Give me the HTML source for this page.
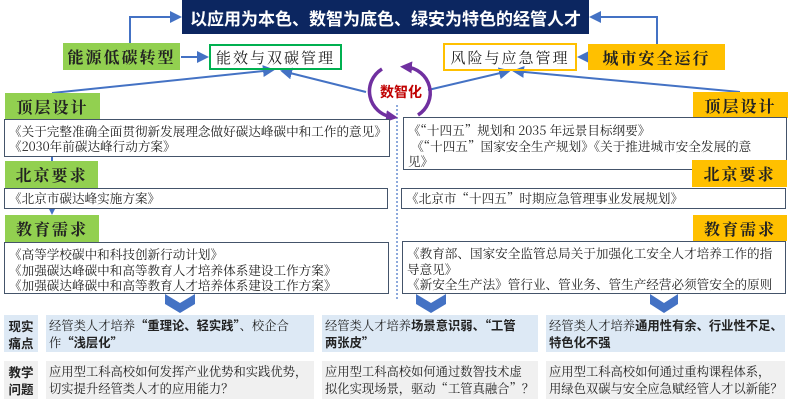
<!DOCTYPE html>
<html><head><meta charset="utf-8"><style>
*{margin:0;padding:0;box-sizing:border-box}
body{width:800px;height:403px;background:#fff;position:relative;overflow:hidden;font-family:"Noto Serif CJK SC","Liberation Serif",serif;color:#222}
.a{position:absolute}
.g{background:#92d050;font-size:16px;font-weight:bold;display:flex;align-items:center;justify-content:center;letter-spacing:2px}
.o{background:#ffc000;font-size:16px;font-weight:bold;display:flex;align-items:center;justify-content:center;letter-spacing:2px}
.doc{border:1.5px solid #44546a;background:#fff;font-size:12.6px;line-height:14px;padding:2px 4px;white-space:nowrap;overflow:hidden}
.c1{background:#dde9f5;font-size:12.3px;line-height:17px;padding:2px 3px;white-space:nowrap}
.c2{background:#f0f0f0;font-size:12.3px;line-height:17px;padding:2px 3px;white-space:nowrap}
.lab{font-family:"Noto Sans CJK SC","Liberation Sans",sans-serif;font-weight:bold;font-size:12.5px;line-height:17px;display:flex;align-items:center;justify-content:center;text-align:center}
b{font-family:"Noto Sans CJK SC","Liberation Sans",sans-serif}
</style></head><body>
<div class="a" style="left:182px;top:0;width:407px;height:34px;background:#0c2660;color:#fff;font-family:'Noto Sans CJK SC','Liberation Sans',sans-serif;font-weight:bold;font-size:17px;display:flex;align-items:center;justify-content:center">以应用为本色、数智为底色、绿安为特色的经管人才</div>
<svg class="a" style="left:0;top:0" width="800" height="403">
<defs><marker id="m" markerWidth="6" markerHeight="6" refX="5" refY="3" orient="auto"><path d="M0,0L6,3L0,6z" fill="#4472c4"/></marker>
<marker id="p" markerUnits="userSpaceOnUse" markerWidth="12" markerHeight="12" refX="6" refY="6" orient="auto"><path d="M0,0L12,6L0,12z" fill="#7030a0"/></marker></defs>
<g stroke="#4472c4" stroke-width="2" fill="none">
<path d="M130,43V17H180" marker-end="url(#m)"/>
<path d="M657,44V17H591" marker-end="url(#m)"/>
<path d="M181,57H207" marker-end="url(#m)"/>
<path d="M588,57H579" marker-end="url(#m)"/>
<path d="M52,93L273,70" marker-end="url(#m)"/>
<path d="M366,92L282,71" marker-end="url(#m)"/>
<path d="M428,90L509,71" marker-end="url(#m)"/>
<path d="M740,92L514,71" marker-end="url(#m)"/>
<path d="M52,157V213" marker-end="url(#m)"/>
<path d="M397,105V300" stroke-dasharray="2,2" stroke-width="1.2"/>
</g>
<g stroke="#7030a0" stroke-width="3.5" fill="none">
<path d="M382,69 A26,26 0 0 0 392,117" marker-end="url(#p)"/>
<path d="M418,115 A26,26 0 0 0 406,67" marker-end="url(#p)"/>
</g>
<g fill="#4472c4">
<path d="M165,294L180,303L195,294V304L180,313L165,304z"/>
<path d="M416,294L431,303L446,294V304L431,313L416,304z"/>
<path d="M650,294L664,303L678,294V304L664,313L650,304z"/>
</g>
</svg>
<div class="a" style="left:372px;top:82px;width:58px;text-align:center;color:#c00000;font-weight:bold;font-size:14px;font-family:'Noto Sans CJK SC','Liberation Sans',sans-serif">数智化</div>
<div class="a g" style="left:63px;top:43px;width:117px;height:27px">能源低碳转型</div>
<div class="a" style="left:209px;top:44px;width:133px;height:26px;border:2px solid #00b050;font-size:15px;display:flex;align-items:center;justify-content:center;letter-spacing:2px">能效与双碳管理</div>
<div class="a" style="left:443px;top:43px;width:134px;height:28px;border:2px solid #ffc000;font-size:15px;display:flex;align-items:center;justify-content:center;letter-spacing:2px">风险与应急管理</div>
<div class="a o" style="left:588px;top:44px;width:137px;height:26px">城市安全运行</div>

<div class="a g" style="left:5px;top:93px;width:95px;height:26px">顶层设计</div>
<div class="a doc" style="left:4px;top:119px;width:386px;height:38px;padding-top:3px;line-height:15px">《关于完整准确全面贯彻新发展理念做好碳达峰碳中和工作的意见》<br>《2030年前碳达峰行动方案》</div>
<div class="a g" style="left:5px;top:161px;width:93px;height:27px">北京要求</div>
<div class="a doc" style="left:4px;top:188px;width:384px;height:21px;padding-top:2px">《北京市碳达峰实施方案》</div>
<div class="a g" style="left:5px;top:215px;width:94px;height:27px">教育需求</div>
<div class="a doc" style="left:4px;top:242px;width:385px;height:52px;line-height:15.5px;padding-top:3px">《高等学校碳中和科技创新行动计划》<br>《加强碳达峰碳中和高等教育人才培养体系建设工作方案》<br>《加强碳达峰碳中和高等教育人才培养体系建设工作方案》</div>

<div class="a o" style="left:693px;top:92px;width:95px;height:26px">顶层设计</div>
<div class="a doc" style="left:403px;top:117px;width:384px;height:53px;line-height:15.5px;padding-top:4px">《“十四五”规划和 2035 年远景目标纲要》<br>&nbsp;《“十四五”国家安全生产规划》《关于推进城市安全发展的意<br>见》</div>
<div class="a o" style="left:692px;top:160px;width:95px;height:27px">北京要求</div>
<div class="a doc" style="left:401px;top:188px;width:385px;height:21px;padding-top:2px">《北京市“十四五”时期应急管理事业发展规划》</div>
<div class="a o" style="left:693px;top:215px;width:94px;height:26px">教育需求</div>
<div class="a doc" style="left:402px;top:241px;width:384px;height:53px;line-height:15.5px;padding-top:3px">《教育部、国家安全监管总局关于加强化工安全人才培养工作的指<br>导意见》<br>《新安全生产法》管行业、管业务、管生产经营必须管安全的原则</div>

<div class="a c1 lab" style="left:4px;top:315px;width:34px;height:37px;padding:0">现实<br>痛点</div>
<div class="a c1" style="left:46px;top:315px;width:268px;height:37px">经管类人才培养<b>“重理论、轻实践”</b>、校企合<br>作<b>“浅层化”</b></div>
<div class="a c1" style="left:322px;top:315px;width:216px;height:37px">经管类人才培养<b>场景意识弱、“工管</b><br><b>两张皮”</b></div>
<div class="a c1" style="left:546px;top:315px;width:239px;height:37px">经管类人才培养<b>通用性有余、行业性不足、</b><br><b>特色化不强</b></div>
<div class="a c2 lab" style="left:4px;top:361px;width:34px;height:38px;padding:0">教学<br>问题</div>
<div class="a c2" style="left:46px;top:361px;width:268px;height:38px">应用型工科高校如何发挥产业优势和实践优势，<br>切实提升经管类人才的应用能力？</div>
<div class="a c2" style="left:322px;top:361px;width:216px;height:38px">应用型工科高校如何通过数智技术虚<br>拟化实现场景，驱动“工管真融合”？</div>
<div class="a c2" style="left:546px;top:361px;width:239px;height:38px">应用型工科高校如何通过重构课程体系，<br>用绿色双碳与安全应急赋经管人才以新能？</div>
</body></html>
